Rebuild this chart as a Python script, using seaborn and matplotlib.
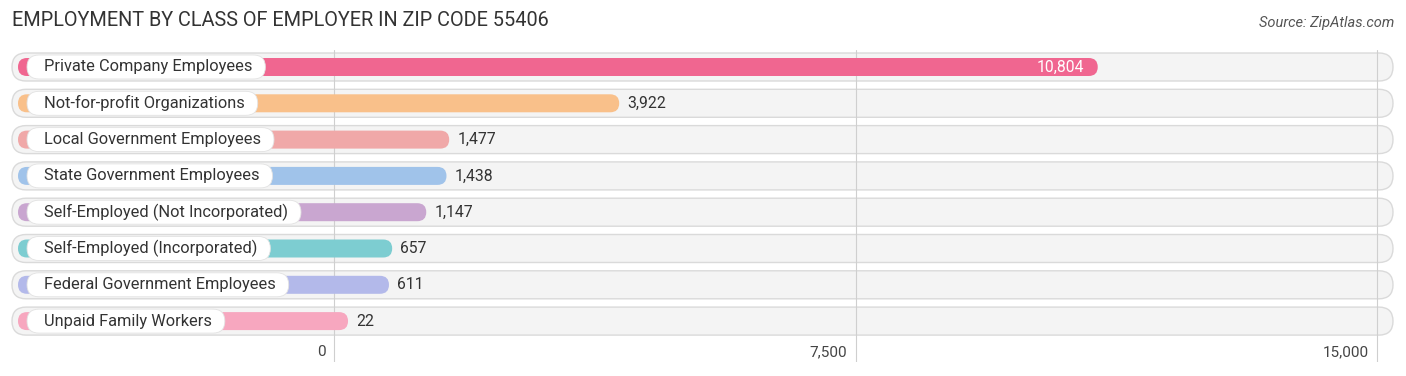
import matplotlib
matplotlib.use("Agg")
import matplotlib.pyplot as plt
import seaborn as sns
import pandas as pd
from matplotlib.patches import FancyBboxPatch

categories = [
    "Private Company Employees",
    "Not-for-profit Organizations",
    "Local Government Employees",
    "State Government Employees",
    "Self-Employed (Not Incorporated)",
    "Self-Employed (Incorporated)",
    "Federal Government Employees",
    "Unpaid Family Workers",
]
values = [10804, 3922, 1477, 1438, 1147, 657, 611, 22]
value_labels = ["10,804", "3,922", "1,477", "1,438", "1,147", "657", "611", "22"]
colors = ["#f06690", "#f9c08a", "#f0a8a8", "#a0c3ea", "#c9a6d0", "#7dcdd1", "#b3b9ea", "#f7a7bf"]
tick_values = [0, 7500, 15000]
tick_labels = ["0", "7,500", "15,000"]
title = "EMPLOYMENT BY CLASS OF EMPLOYER IN ZIP CODE 55406"
source = "Source: ZipAtlas.com"

sns.set_theme(style="white")
plt.rcParams["font.family"] = ["Roboto", "DejaVu Sans"]

W, H = 1406, 376
fig = plt.figure(figsize=(W / 100, H / 100), dpi=100)

# layout in pixels
px_zero, px_max = 334, 1377
ppu = (px_max - px_zero) / 15000.0          # pixels per data unit
row0, row_step = 67, 36.3
top_px, bot_px = 50, 362
ax = fig.add_axes([0, 1 - bot_px / H, 1, (bot_px - top_px) / H])
xlo = -px_zero / ppu
xhi = (W - px_zero) / ppu
ylo = (bot_px - row0) / row_step
yhi = (top_px - row0) / row_step

df = pd.DataFrame({"cat": categories, "val": values})
sns.barplot(data=df, x="val", y="cat", hue="cat", palette=colors, orient="h",
            width=18 / row_step, legend=False, ax=ax, zorder=3, saturation=1)
ax.set_xlim(xlo, xhi)
ax.set_ylim(ylo, yhi)
ax.axis("off")

ux = 1 / ppu          # data units per px in x
uy = 1 / row_step     # data units per px in y
aspect = uy / ux

# background pills
bg_l, bg_r = (12 - px_zero) * ux, (1393 - px_zero) * ux
for i in range(len(categories)):
    hh = 14 * uy
    ax.add_patch(FancyBboxPatch((bg_l, i - hh), bg_r - bg_l, 2 * hh,
                                boxstyle=f"round,pad=0,rounding_size={14 * ux}",
                                mutation_aspect=aspect, fc="#f4f4f4", ec="#dadada",
                                lw=1.0, zorder=1))

# gridlines
for tv in tick_values:
    ax.plot([tv, tv], [ylo, yhi], color="#cfcfcf", lw=0.8, zorder=2)

# rounded bars
bar_l = (18 - px_zero) * ux
cap = 12.5 * ux
for p in list(ax.patches):
    if isinstance(p, FancyBboxPatch):
        continue
    y, h, w = p.get_y(), p.get_height(), p.get_width()
    fc = p.get_facecolor()
    p.remove()
    ax.add_patch(FancyBboxPatch((bar_l, y), w + cap - bar_l, h,
                                boxstyle=f"round,pad=0,rounding_size={9 * ux}",
                                mutation_aspect=aspect, fc=fc, ec="none", zorder=3))

# category labels with white pills
texts = []
for i, c in enumerate(categories):
    t = ax.text((44 - px_zero) * ux, i, c, ha="left", va="center", fontsize=11.8,
                color="#333333", zorder=5)
    texts.append(t)

fig.canvas.draw()
r = fig.canvas.get_renderer()
inv = ax.transData.inverted()
for i, t in enumerate(texts):
    bb = t.get_window_extent(renderer=r)
    x0 = inv.transform((bb.x0 - 17, 0))[0]
    x1 = inv.transform((bb.x1 + 13, 0))[0]
    hh = 12 * uy
    ax.add_patch(FancyBboxPatch((x0, i - hh), x1 - x0, 2 * hh,
                                boxstyle=f"round,pad=0,rounding_size={12 * ux}",
                                mutation_aspect=aspect, fc="white", ec="#e2e2e2",
                                lw=0.6, zorder=4))

# value labels
for i, (v, lab) in enumerate(zip(values, value_labels)):
    if v > 8000:
        ax.text(v + cap - 14 * ux, i, lab, ha="right", va="center", fontsize=11.3,
                color="white", zorder=6)
    else:
        ax.text(v + cap + 8 * ux, i, lab, ha="left", va="center", fontsize=11.3,
                color="#333333", zorder=6)

# tick labels
for tv, tl in zip(tick_values, tick_labels):
    ax.text(tv - 8 * ux, (352 - row0) / row_step, tl, ha="right", va="center",
            fontsize=11, color="#444444", zorder=6)

fig.text(12 / W, 1 - 21 / H, title, ha="left", va="center", fontsize=14.3,
         color="#333333")
fig.text(1394 / W, 1 - 23 / H, source, ha="right", va="center", fontsize=10.5,
         color="#555555", style="italic")

fig.savefig("out.png", dpi=100)
